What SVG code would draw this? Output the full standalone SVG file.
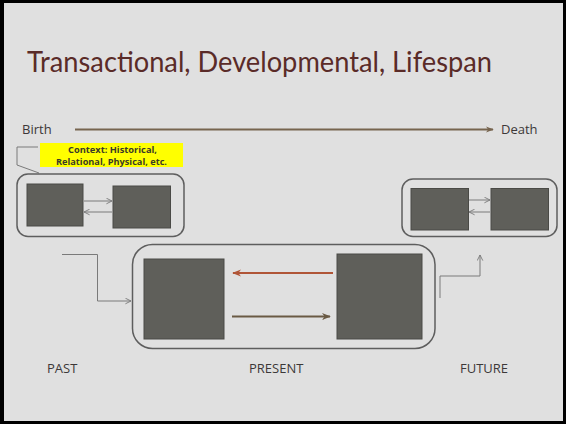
<svg xmlns="http://www.w3.org/2000/svg" width="566" height="424" viewBox="0 0 566 424">
<style>
.frame{fill:none;stroke:#5e5e5e;stroke-width:1.5}
.box{fill:#5f5f5a;stroke:#4a4a46;stroke-width:1}
.thin{fill:none;stroke:#7a7a7a;stroke-width:1}
.lbl{font-family:"Open Sans","Liberation Sans",sans-serif;font-size:13px;fill:#3c3838}
.ctx{font-family:"Open Sans","Liberation Sans",sans-serif;font-size:8.6px;font-weight:bold;fill:#3a3a28}
</style>
<defs>
<marker id="open" viewBox="0 0 10 10" refX="9" refY="5" markerWidth="7" markerHeight="7" markerUnits="userSpaceOnUse" orient="auto">
<path d="M1,1 L9,5 L1,9" fill="none" stroke="#7a7a7a" stroke-width="1.3"/>
</marker>
<marker id="tl" viewBox="0 0 10 10" refX="9" refY="5" markerWidth="8" markerHeight="8" markerUnits="userSpaceOnUse" orient="auto">
<path d="M0,1 L10,5 L0,9 L3,5 z" fill="#77654f"/>
</marker>
<marker id="red" viewBox="0 0 10 10" refX="9" refY="5" markerWidth="9" markerHeight="9" markerUnits="userSpaceOnUse" orient="auto">
<path d="M0,1 L10,5 L0,9 L3,5 z" fill="#b05537"/>
</marker>
<marker id="brn" viewBox="0 0 10 10" refX="9" refY="5" markerWidth="9" markerHeight="9" markerUnits="userSpaceOnUse" orient="auto">
<path d="M0,1 L10,5 L0,9 L3,5 z" fill="#6a5a44"/>
</marker>
</defs>
<rect x="0" y="0" width="566" height="424" fill="#000"/>
<rect x="4" y="3" width="559" height="418" fill="#e0e0e0"/>
<text x="27" y="72" font-family="Lato,'Open Sans','Liberation Sans',sans-serif" font-size="29" fill="#5a2b28" textLength="465" lengthAdjust="spacingAndGlyphs">Transactional, Developmental, Lifespan</text>
<text class="lbl" x="22" y="134">Birth</text>
<text class="lbl" x="501" y="134">Death</text>
<g id="connectors">
<line x1="75" y1="129.5" x2="493" y2="129.5" stroke="#77654f" stroke-width="2" marker-end="url(#tl)"/>
<path class="thin" d="M38,147 H17 V165 L39,173"/>
<line class="thin" x1="84" y1="201" x2="112" y2="201" marker-end="url(#open)"/>
<line class="thin" x1="112" y1="212" x2="84" y2="212" marker-end="url(#open)"/>
<line class="thin" x1="469" y1="200" x2="490" y2="200" marker-end="url(#open)"/>
<line class="thin" x1="490" y1="212" x2="469" y2="212" marker-end="url(#open)"/>
<line x1="333" y1="273" x2="233" y2="273" stroke="#b05537" stroke-width="2" marker-end="url(#red)"/>
<line x1="232" y1="316.5" x2="330" y2="316.5" stroke="#6a5a44" stroke-width="2" marker-end="url(#brn)"/>
<path class="thin" d="M62,254.5 H97.5 V301 H131" marker-end="url(#open)"/>
<path class="thin" d="M440,298 V276 H480 V255" marker-end="url(#open)"/>
</g>
<g id="context">
<rect x="40" y="143" width="143" height="24" fill="#ffff00"/>
<text class="ctx" x="68" y="152.5" textLength="89" lengthAdjust="spacingAndGlyphs">Context: Historical,</text>
<text class="ctx" x="56" y="164.5" textLength="111" lengthAdjust="spacingAndGlyphs">Relational, Physical, etc.</text>
</g>
<g id="past">
<rect class="frame" x="17" y="174" width="167" height="62.5" rx="11"/>
<rect class="box" x="27" y="184" width="56" height="42"/>
<rect class="box" x="113" y="186" width="57.5" height="42"/>
</g>
<g id="future">
<rect class="frame" x="402" y="179" width="155" height="57.5" rx="11"/>
<rect class="box" x="411" y="188.5" width="57.5" height="41.5"/>
<rect class="box" x="491" y="188.5" width="57.5" height="41.5"/>
</g>
<g id="present">
<rect class="frame" x="132.5" y="244.5" width="302.5" height="104" rx="20"/>
<rect class="box" x="144" y="259" width="80" height="80"/>
<rect class="box" x="337" y="254" width="85" height="85"/>
</g>
<text class="lbl" x="47" y="373">PAST</text>
<text class="lbl" x="249" y="373">PRESENT</text>
<text class="lbl" x="460" y="373">FUTURE</text>
</svg>
